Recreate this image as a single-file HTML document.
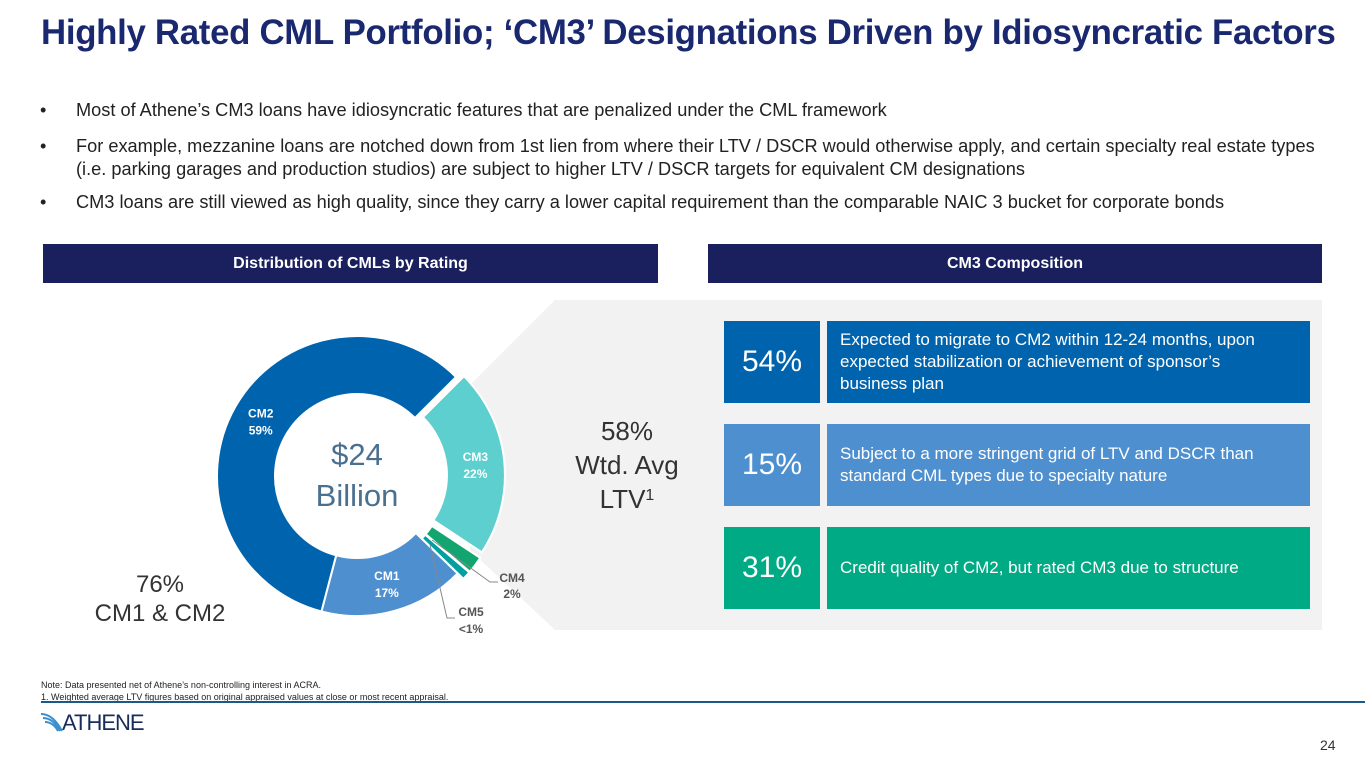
<!DOCTYPE html>
<html><head><meta charset="utf-8"><style>
body{margin:0;width:1365px;height:768px;overflow:hidden;background:#fff;font-family:"Liberation Sans",sans-serif;position:relative}
.a{position:absolute}
h1{position:absolute;left:41px;top:13px;margin:0;font-size:34.8px;font-weight:bold;color:#1a2870;letter-spacing:-0.3px;white-space:nowrap}
.b{position:absolute;left:40px;font-size:18.2px;color:#222;line-height:23px;width:1310px;letter-spacing:0px;white-space:nowrap}
.b span{position:absolute;left:0}
.b div{margin-left:36px}
.hdr{position:absolute;top:244px;height:39px;background:#1a1f5e;color:#fff;font-weight:bold;font-size:16px;text-align:center;line-height:39px}
.pct{position:absolute;left:724px;width:96px;height:82px;color:#fff;font-size:30px;text-align:center;line-height:82px}
.txt{position:absolute;left:827px;width:470px;height:82px;color:#fff;font-size:17px;line-height:22px;padding-left:13px;display:flex;align-items:center}
</style></head><body>
<h1>Highly Rated CML Portfolio; ‘CM3’ Designations Driven by Idiosyncratic Factors</h1>
<div class="b" style="top:99px"><span>•</span><div>Most of Athene’s CM3 loans have idiosyncratic features that are penalized under the CML framework</div></div>
<div class="b" style="top:135px"><span>•</span><div>For example, mezzanine loans are notched down from 1st lien from where their LTV / DSCR would otherwise apply, and certain specialty real estate types<br>(i.e. parking garages and production studios) are subject to higher LTV / DSCR targets for equivalent CM designations</div></div>
<div class="b" style="top:191px"><span>•</span><div>CM3 loans are still viewed as high quality, since they carry a lower capital requirement than the comparable NAIC 3 bucket for corporate bonds</div></div>
<div class="hdr" style="left:43px;width:615px">Distribution of CMLs by Rating</div>
<div class="hdr" style="left:708px;width:614px">CM3 Composition</div>
<svg class="a" style="left:0;top:0" width="1365" height="768" id="chart">
<polygon points="555,300 1322,300 1322,630 555,630 470,550 470,385" fill="#f2f2f2"/>
<g id="slices"></g>
<text x="357" y="465" font-size="31" fill="#4a7090" text-anchor="middle">$24</text>
<text x="357" y="506" font-size="31" fill="#4a7090" text-anchor="middle">Billion</text>
<polyline points="432,540 490,582 498,582" fill="none" stroke="#888" stroke-width="1"/>
<polyline points="430,545 447,618 455,618" fill="none" stroke="#888" stroke-width="1"/>
<text x="512" y="582" font-size="12" font-weight="bold" fill="#555" text-anchor="middle">CM4</text>
<text x="512" y="598" font-size="12" font-weight="bold" fill="#555" text-anchor="middle">2%</text>
<text x="471" y="616" font-size="12" font-weight="bold" fill="#555" text-anchor="middle">CM5</text>
<text x="471" y="633" font-size="12" font-weight="bold" fill="#555" text-anchor="middle">&lt;1%</text>
<text x="160" y="592" font-size="24" fill="#333" text-anchor="middle">76%</text>
<text x="160" y="621" font-size="24" fill="#333" text-anchor="middle">CM1 &amp; CM2</text>
<text x="627" y="440" font-size="26" fill="#333" text-anchor="middle">58%</text>
<text x="627" y="474" font-size="26" fill="#333" text-anchor="middle">Wtd. Avg</text>
<text x="627" y="508" font-size="26" fill="#333" text-anchor="middle">LTV<tspan font-size="16" dy="-8">1</tspan></text>
</svg>
<div class="pct" style="top:321px;background:#0063ad">54%</div>
<div class="txt" style="top:321px;background:#0063ad">Expected to migrate to CM2 within 12-24 months, upon<br>expected stabilization or achievement of sponsor’s<br>business plan</div>
<div class="pct" style="top:424px;background:#4e8fd0">15%</div>
<div class="txt" style="top:424px;background:#4e8fd0">Subject to a more stringent grid of LTV and DSCR than<br>standard CML types due to specialty nature</div>
<div class="pct" style="top:527px;background:#00aa84">31%</div>
<div class="txt" style="top:527px;background:#00aa84">Credit quality of CM2, but rated CM3 due to structure</div>
<div class="a" style="left:41px;top:679px;font-size:9px;color:#222;line-height:12px">Note: Data presented net of Athene’s non-controlling interest in ACRA.<br>1. Weighted average LTV figures based on original appraised values at close or most recent appraisal.</div>
<div class="a" style="left:41px;top:701px;width:1324px;height:2px;background:#1a5a8a"></div>
<div class="a" style="left:62px;top:710px;font-size:22px;color:#1a2d5a;letter-spacing:-1px">ATHENE</div>
<svg class="a" style="left:41px;top:712px" width="22" height="20"><path d="M0,2 Q12,2 21,19 M2,6 Q12,6 19,19 M4,10 Q12,10 17,19" stroke="#3a8fcf" stroke-width="2" fill="none"/></svg>
<div class="a" style="left:1320px;top:737px;font-size:14px;color:#333">24</div>
<script>
const labels=["CM3","CM4","CM5","CM1","CM2"];
const values=[22,2,1,17,59];
const colors=["#5ecfcf","#12a56f","#00a0a0","#4e8fd0","#0063ad"];
const cx=357,cy=476,R=140,r=82,start=45;
const total=values.reduce((a,b)=>a+b,0);
const g=document.getElementById('slices');
const ns="http://www.w3.org/2000/svg";
let a=start;
function pt(deg,rad,off){const t=(deg-90)*Math.PI/180;return [cx+off[0]+rad*Math.cos(t),cy+off[1]+rad*Math.sin(t)];}
values.forEach((v,i)=>{
  const sw=v/total*360;const a0=a,a1=a+sw;a=a1;
  const mid=(a0+a1-90*2)/2*Math.PI/180;
  const ex=(i<3)?8:0;const off=[ex*Math.cos(mid),ex*Math.sin(mid)];
  const p0=pt(a0,R,off),p1=pt(a1,R,off),p2=pt(a1,r,off),p3=pt(a0,r,off);
  const lg=sw>180?1:0;
  const p=document.createElementNS(ns,'path');
  p.setAttribute('d',`M${p0}A${R},${R} 0 ${lg} 1 ${p1}L${p2}A${r},${r} 0 ${lg} 0 ${p3}Z`);
  p.setAttribute('fill',colors[i]);p.setAttribute('stroke','#fff');p.setAttribute('stroke-width','2');
  
  
  g.appendChild(p);
  if(v>=10){const m=pt((a0+a1)/2,(R+r)/2,off);
    [labels[i],v+'%'].forEach((s,k)=>{const t=document.createElementNS(ns,'text');
      t.setAttribute('x',m[0]);t.setAttribute('y',m[1]-3+k*17);t.setAttribute('text-anchor','middle');
      t.setAttribute('font-size','12');t.setAttribute('font-weight','bold');t.setAttribute('fill','#fff');
      
      
      t.textContent=s;g.appendChild(t);});}
});
</script>
</body></html>
